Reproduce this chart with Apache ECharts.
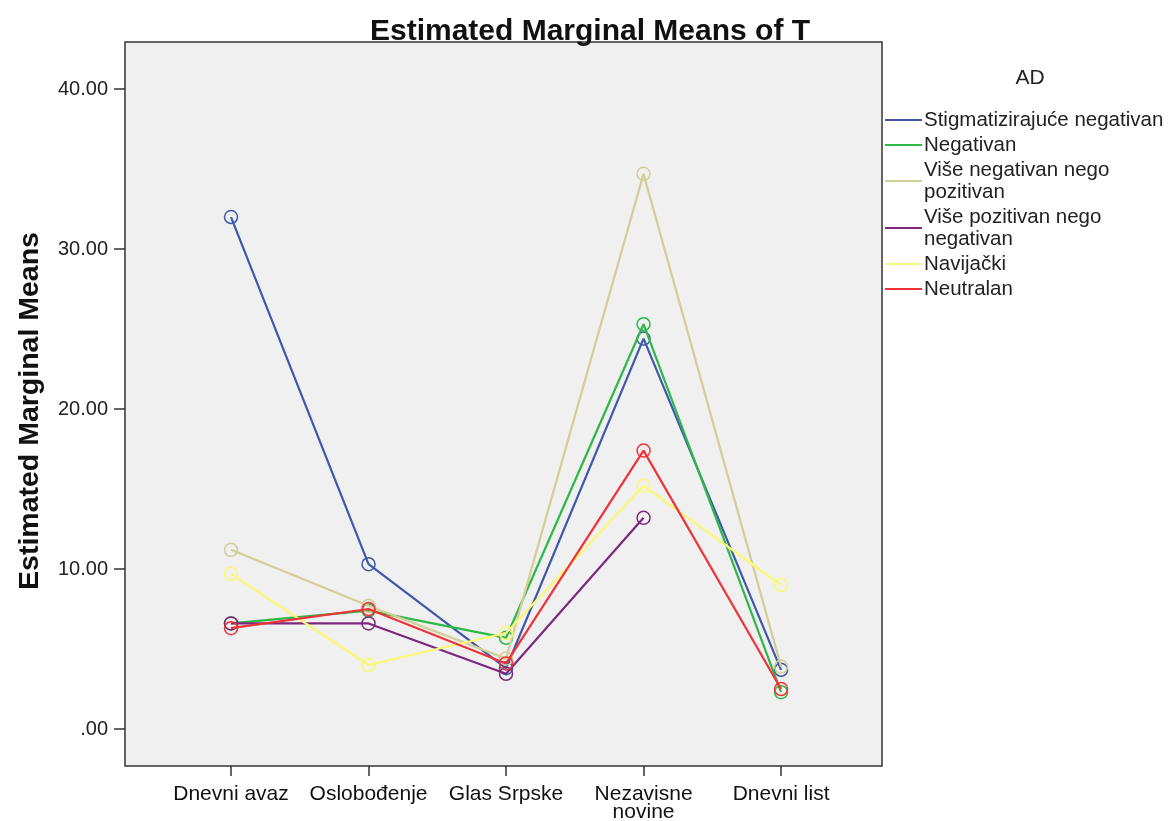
<!DOCTYPE html>
<html>
<head>
<meta charset="utf-8">
<script src="https://cdn.jsdelivr.net/npm/echarts@6/dist/echarts.min.js"></script>
<style>
html,body{margin:0;padding:0;background:#fff;}
#chart{width:1170px;height:821px;}
</style>
</head>
<body>
<div id="chart"></div>
<script>
const categories = ['Dnevni avaz', 'Oslobođenje', 'Glas Srpske', 'Nezavisne\nnovine', 'Dnevni list'];
const seriesNames = ['Stigmatizirajuće negativan', 'Negativan', 'Više negativan nego\npozitivan', 'Više pozitivan nego\nnegativan', 'Navijački', 'Neutralan'];
const stigmatizirajuce = [32.0, 10.3, 3.8, 24.4, 3.7];
const negativan = [6.6, 7.4, 5.7, 25.3, 2.3];
const viseNegativan = [11.2, 7.7, 4.4, 34.7, 3.9];
const visePozitivan = [6.6, 6.6, 3.45, 13.2, null];
const navijacki = [9.7, 4.0, 6.0, 15.2, 9.0];
const neutralan = [6.3, 7.5, 4.1, 17.4, 2.5];
const yTicks = [0, 10, 20, 30, 40];
const colors = ['#3E58AC', '#2EB848', '#D3CE97', '#7C287D', '#FBF873', '#EF3338'];

const allValues = [stigmatizirajuce, negativan, viseNegativan, visePozitivan, navijacki, neutralan];
const font = '"Liberation Sans", Arial, sans-serif';

const series = allValues.map((vals, k) => ({
  name: seriesNames[k],
  type: 'line',
  data: vals.map((v, i) => [i, v]).filter(p => p[1] !== null),
  symbol: 'circle',
  symbolSize: 13,
  lineStyle: { color: colors[k], width: 2.2 },
  itemStyle: { color: 'rgba(0,0,0,0)', borderColor: colors[k], borderWidth: 1.5 },
  emphasis: { disabled: true },
  z: 2 + k
}));

const legendData = seriesNames.map((n, k) => ({
  name: n,
  itemStyle: { color: colors[k], borderWidth: 0 }
}));

const chart = echarts.init(document.getElementById('chart'), null, { renderer: 'canvas' });
chart.setOption({
  animation: false,
  backgroundColor: '#ffffff',
  title: {
    text: 'Estimated Marginal Means of T',
    left: 585, top: 12, textAlign: 'center',
    textStyle: { fontFamily: font, fontSize: 30, fontWeight: 'bold', color: '#111' }
  },
  legend: {
    orient: 'vertical',
    left: 880, top: 104,
    icon: 'rect',
    itemWidth: 37, itemHeight: 2,
    itemGap: 3,
    data: legendData,
    textStyle: { fontFamily: font, fontSize: 20.5, color: '#222', lineHeight: 22, padding: [0, 0, 0, -3] }
  },
  graphic: [
    {
      type: 'text', x: 1030, y: 78,
      style: { text: 'AD', font: '21px ' + font, fill: '#222', textAlign: 'center', textVerticalAlign: 'middle' }
    },
    {
      type: 'text', x: 30, y: 411, rotation: Math.PI / 2,
      style: { text: 'Estimated Marginal Means', font: 'bold 28.5px ' + font, fill: '#111', textAlign: 'center', textVerticalAlign: 'middle' }
    }
  ],
  grid: {
    left: 125, right: 288, top: 42, bottom: 55,
    outerBoundsMode: 'none',
    containLabel: false,
    show: true, backgroundColor: '#F0F0F0', borderColor: '#333', borderWidth: 1.5
  },
  xAxis: {
    type: 'value',
    min: -0.771, max: 4.734,
    splitLine: { show: false },
    axisLine: { show: false, onZero: false },
    axisTick: { show: true, length: 10, customValues: [0, 1, 2, 3, 4], lineStyle: { color: '#333', width: 1.5 } },
    axisLabel: {
      customValues: [0, 1, 2, 3, 4],
      formatter: v => categories[Math.round(v)],
      fontFamily: font, fontSize: 21, color: '#111', margin: 19, lineHeight: 18
    }
  },
  yAxis: {
    type: 'value',
    min: -2.3125, max: 42.94,
    splitLine: { show: false },
    axisLine: { show: false, onZero: false },
    axisTick: { show: true, length: 11, customValues: yTicks, lineStyle: { color: '#333', width: 1.5 } },
    axisLabel: {
      customValues: yTicks,
      formatter: v => (v === 0 ? '.00' : v.toFixed(2)),
      fontFamily: font, fontSize: 20, color: '#222', margin: 17
    }
  },
  series: series
});
</script>
</body>
</html>
